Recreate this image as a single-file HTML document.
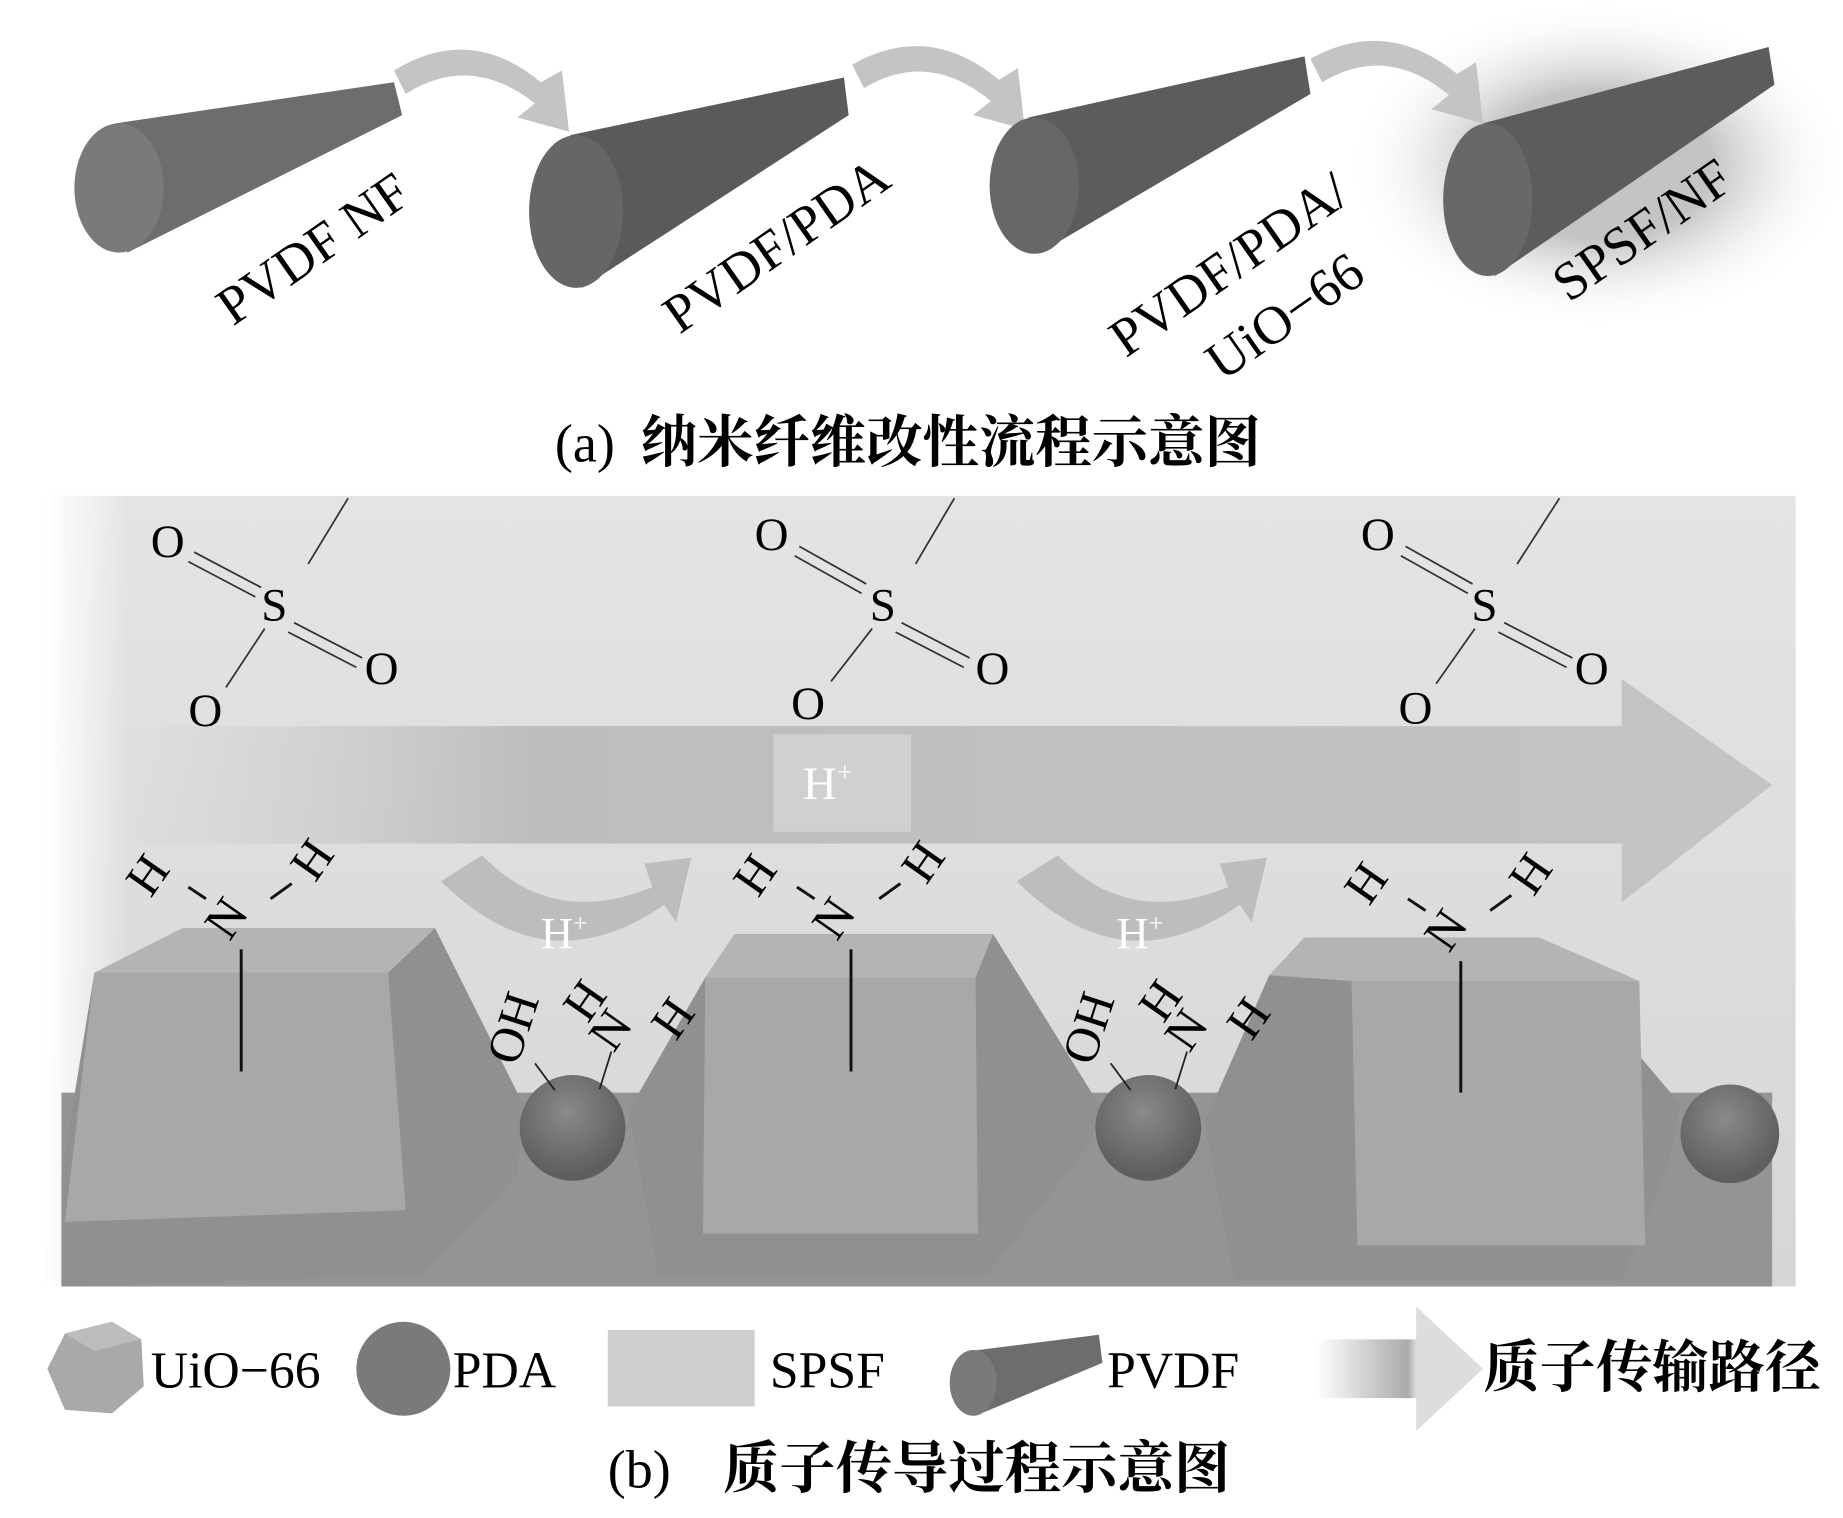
<!DOCTYPE html>
<html><head><meta charset="utf-8"><style>
html,body{margin:0;padding:0;background:#fff;}
svg{display:block;}
text{font-family:"Liberation Serif","Noto Serif CJK SC",serif;}
.cj{font-family:"Liberation Serif","Noto Serif CJK SC","Noto Sans CJK SC",serif;font-weight:bold;}
</style></head><body>
<svg width="1843" height="1518" viewBox="0 0 1568 1292" xmlns="http://www.w3.org/2000/svg">
<defs>
<radialGradient id="glow" cx="0.5" cy="0.5" r="0.5"><stop offset="0.45" stop-color="#c4c4c4"/><stop offset="1" stop-color="#fff" stop-opacity="0"/></radialGradient>
<linearGradient id="big" x1="0" x2="1"><stop offset="0" stop-color="#c8c8c8" stop-opacity="0"/><stop offset="0.25" stop-color="#bdbdbd"/><stop offset="1" stop-color="#c4c4c4"/></linearGradient>
<linearGradient id="leg" x1="0" x2="1"><stop offset="0" stop-color="#fff"/><stop offset="0.55" stop-color="#aaa"/><stop offset="0.6" stop-color="#ddd"/><stop offset="1" stop-color="#ddd"/></linearGradient>
<linearGradient id="lf" x1="0" x2="1"><stop offset="0" stop-color="#fff"/><stop offset="1" stop-color="#fff" stop-opacity="0"/></linearGradient>
<linearGradient id="tf" x1="0" y1="0" x2="0" y2="1"><stop offset="0" stop-color="#e4e4e4"/><stop offset="1" stop-color="#d6d6d6"/></linearGradient>
<radialGradient id="sph" cx="0.45" cy="0.35" r="0.6"><stop offset="0" stop-color="#8a8a8a"/><stop offset="1" stop-color="#5e5e5e"/></radialGradient>
</defs>
<rect width="1568" height="1292" fill="#fff"/>
<!-- panel a -->
<ellipse cx="1360" cy="140" rx="215" ry="140" fill="url(#glow)"/>
<g fill="#c4c4c4">
<path d="M335 60 Q400 20 460 70 L478 60 L484 112 L440 100 L455 88 Q400 45 345 80 Z"/>
<path d="M725 55 Q790 18 850 68 L866 58 L872 110 L828 98 L843 86 Q790 42 735 75 Z"/>
<path d="M1115 50 Q1180 14 1240 63 L1256 53 L1262 105 L1218 93 L1233 81 Q1180 37 1125 70 Z"/>
</g>
<polygon points="98,105 335,70 342,98 108,215" fill="#6d6d6d"/>
<ellipse cx="101" cy="160" rx="38" ry="55" fill="#7a7a7a"/>
<polygon points="485,115 718,66 722,98 495,245" fill="#5a5a5a"/>
<ellipse cx="490" cy="180" rx="40" ry="65" fill="#666"/>
<polygon points="875,100 1110,48 1115,80 885,215" fill="#5c5c5c"/>
<ellipse cx="880" cy="158" rx="38" ry="58" fill="#676767"/>
<polygon points="1262,105 1505,40 1510,72 1272,235" fill="#5c5c5c"/>
<ellipse cx="1266" cy="170" rx="38" ry="65" fill="#686868"/>
<g font-size="46" fill="#000">
<text transform="translate(198,278) rotate(-35)">PVDF NF</text>
<text transform="translate(578,285) rotate(-35)">PVDF/PDA</text>
<text transform="translate(958,305) rotate(-35)">PVDF/PDA/</text>
<text transform="translate(1040,325) rotate(-35)">UiO−66</text>
<text transform="translate(1335,258) rotate(-35)">SPSF/NF</text>
</g>
<text x="472" y="393" font-size="46">(a)</text>
<text x="545" y="393" font-size="48" class="cj">纳米纤维改性流程示意图</text>
<!-- panel b -->
<rect x="40" y="422" width="1488" height="673" fill="url(#tf)"/>
<rect x="40" y="422" width="70" height="673" fill="url(#lf)"/>
<path d="M100 618 H1380 V578 L1508 668 L1380 768 V718 H100 Z" fill="url(#big)"/>
<rect x="658" y="625" width="117" height="83" fill="#d0d0d0"/>
<text x="683" y="680" font-size="40" fill="#fff">H<tspan font-size="24" dy="-15">+</tspan></text>
<!-- ground -->
<path d="M52 930 H1508 V1095 H52 Z" fill="#949494"/>
<!-- crystals -->
<g>
<polygon points="52,1000 80,828 155,790 370,790 445,940 440,1000 360,1085 52,1095" fill="#909090"/>
<polygon points="80,828 330,828 345,1030 55,1040" fill="#a8a8a8"/>
<polygon points="80,828 155,790 370,790 330,828" fill="#b4b4b4"/>
<polygon points="535,945 600,832 625,795 845,795 935,940 930,970 840,1085 560,1085" fill="#909090"/>
<polygon points="600,832 830,832 832,1050 598,1050" fill="#a8a8a8"/>
<polygon points="600,832 625,795 845,795 830,832" fill="#b4b4b4"/>
<polygon points="1025,955 1080,830 1110,798 1310,798 1430,940 1420,990 1380,1090 1050,1090" fill="#909090"/>
<polygon points="1150,835 1395,835 1400,1060 1155,1060" fill="#a8a8a8"/>
<polygon points="1080,830 1110,798 1310,798 1395,835 1150,835" fill="#b4b4b4"/>
</g>
<circle cx="487" cy="960" r="45" fill="url(#sph)"/>
<circle cx="977" cy="960" r="45" fill="url(#sph)"/>
<circle cx="1472" cy="965" r="42" fill="url(#sph)"/>
<!-- small arrows -->
<g fill="#bdbdbd">
<path d="M375 750 L410 728 Q470 790 555 755 L548 735 L588 730 L575 785 L565 770 Q465 840 375 750 Z"/>
<path d="M865 750 L900 728 Q960 790 1045 755 L1038 735 L1078 730 L1065 785 L1055 770 Q955 840 865 750 Z"/>
</g>
<text x="460" y="807" font-size="38" fill="#fff">H<tspan font-size="22" dy="-14">+</tspan></text>
<text x="950" y="807" font-size="38" fill="#fff">H<tspan font-size="22" dy="-14">+</tspan></text>
<!-- sulfonate groups -->
<g stroke="#333" stroke-width="1.5" fill="none">
<line x1="262" y1="480" x2="296" y2="424"/>
<line x1="165" y1="470" x2="222" y2="500"/><line x1="160" y1="478" x2="217" y2="508"/>
<line x1="250" y1="530" x2="308" y2="560"/><line x1="245" y1="538" x2="303" y2="568"/>
<line x1="225" y1="535" x2="192" y2="585"/>
</g>
<g font-size="40" fill="#000">
<text x="128" y="474">O</text><text x="222" y="528">S</text><text x="310" y="582">O</text><text x="160" y="618">O</text>
<text x="642" y="468">O</text><text x="740" y="528">S</text><text x="830" y="582">O</text><text x="673" y="612">O</text>
<text x="1158" y="468">O</text><text x="1252" y="528">S</text><text x="1340" y="582">O</text><text x="1190" y="616">O</text>
</g>
<g stroke="#333" stroke-width="1.5">
<line x1="779" y1="480" x2="812" y2="424"/><line x1="680" y1="465" x2="737" y2="497"/><line x1="676" y1="473" x2="733" y2="505"/><line x1="767" y1="530" x2="825" y2="560"/><line x1="762" y1="538" x2="820" y2="568"/><line x1="742" y1="535" x2="707" y2="580"/>
<line x1="1291" y1="480" x2="1327" y2="424"/><line x1="1196" y1="465" x2="1253" y2="497"/><line x1="1192" y1="473" x2="1249" y2="505"/><line x1="1280" y1="530" x2="1338" y2="560"/><line x1="1275" y1="538" x2="1333" y2="568"/><line x1="1255" y1="535" x2="1222" y2="582"/>
</g>
<!-- NH2 groups -->
<g font-size="42" fill="#000">
<text transform="translate(128,765) rotate(-55)">H</text>
<text transform="translate(268,752) rotate(-55)">H</text>
<text transform="translate(195,802) rotate(-55)">N</text>
<text transform="translate(645,765) rotate(-55)">H</text>
<text transform="translate(788,754) rotate(-55)">H</text>
<text transform="translate(712,802) rotate(-55)">N</text>
<text transform="translate(1165,772) rotate(-55)">H</text>
<text transform="translate(1305,764) rotate(-55)">H</text>
<text transform="translate(1233,812) rotate(-55)">N</text>
<text transform="translate(440,908) rotate(-72)">OH</text>
<text transform="translate(930,908) rotate(-72)">OH</text>
<text transform="translate(500,872) rotate(-55)">H</text>
<text transform="translate(522,897) rotate(-55)">N</text>
<text transform="translate(575,887) rotate(-55)">H</text>
<text transform="translate(990,872) rotate(-55)">H</text>
<text transform="translate(1012,897) rotate(-55)">N</text>
<text transform="translate(1065,887) rotate(-55)">H</text>
</g>
<g stroke="#111" stroke-width="2.5">
<line x1="205" y1="808" x2="205" y2="912"/><line x1="724" y1="808" x2="724" y2="912"/><line x1="1243" y1="818" x2="1243" y2="930"/>
<line x1="160" y1="755" x2="175" y2="765"/><line x1="230" y1="765" x2="248" y2="752"/>
<line x1="678" y1="755" x2="693" y2="765"/><line x1="748" y1="765" x2="766" y2="752"/>
<line x1="1198" y1="765" x2="1213" y2="775"/><line x1="1268" y1="775" x2="1286" y2="762"/>
</g>
<g stroke="#222" stroke-width="1.5">
<line x1="455" y1="905" x2="472" y2="928"/><line x1="520" y1="895" x2="510" y2="927"/>
<line x1="945" y1="905" x2="962" y2="928"/><line x1="1010" y1="895" x2="1000" y2="927"/>
</g>
<!-- legend -->
<polygon points="40,1165 55,1135 95,1125 120,1140 122,1180 95,1203 55,1200" fill="#a9a9a9"/>
<polygon points="55,1135 95,1125 120,1140 80,1150" fill="#bcbcbc"/>
<circle cx="343" cy="1165" r="40" fill="#7a7a7a"/>
<rect x="517" y="1132" width="125" height="65" fill="#cfcfcf"/>
<polygon points="825,1150 935,1136 938,1160 830,1205" fill="#6d6d6d"/>
<ellipse cx="828" cy="1177" rx="20" ry="28" fill="#7a7a7a"/>
<path d="M1120 1140 H1205 V1112 L1262 1165 L1205 1218 V1190 H1120 Z" fill="url(#leg)"/>
<g font-size="44" fill="#000">
<text x="128" y="1181">UiO−66</text>
<text x="385" y="1181">PDA</text>
<text x="655" y="1181">SPSF</text>
<text x="942" y="1181">PVDF</text>
<text x="1262" y="1180" font-size="48" class="cj">质子传输路径</text>
</g>
<text x="517" y="1266" font-size="46">(b)</text>
<text x="615" y="1266" font-size="48" class="cj">质子传导过程示意图</text>
</svg>
</body></html>
